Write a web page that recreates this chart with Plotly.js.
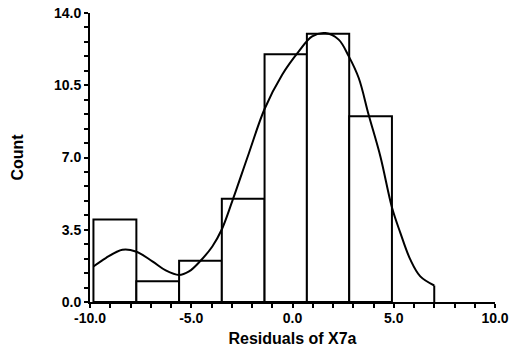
<!DOCTYPE html>
<html>
<head>
<meta charset="utf-8">
<script src="https://cdn.plot.ly/plotly-3.0.1.min.js"></script>
<style>html,body{margin:0;padding:0;background:#fff;}#chart{width:513px;height:357px;}</style>
</head>
<body>
<div id="chart"></div>
<script>
// Histogram bins (edges) and counts
const binEdges = [-9.83, -7.71, -5.60, -3.49, -1.38, 0.71, 2.80, 4.91];
const counts = [4, 1, 2, 5, 12, 13, 9];

// Smoothed density curve
const curveX = [-9.83, -9.22, -8.40, -7.74, -6.92, -6.26, -5.61, -5.11, -4.54, -3.96, -3.50, -2.97, -2.15, -1.38, -0.51, 0.31, 0.97, 1.63, 2.28, 2.78, 3.27, 3.76, 4.34, 4.92, 5.33, 5.82, 6.31, 7.00];
const curveY = [1.72, 2.13, 2.53, 2.45, 1.97, 1.53, 1.31, 1.48, 2.00, 2.69, 3.50, 4.90, 7.22, 9.35, 11.01, 12.14, 12.87, 13.03, 12.71, 11.90, 10.85, 9.07, 7.05, 4.55, 3.34, 2.05, 1.24, 0.80];

// Tick labels
const xTickVals = [-10, -5, 0, 5, 10];
const xTickText = ["-10.0", "-5.0", "0.0", "5.0", "10.0"];
const yTickVals = [0, 3.5, 7, 10.5, 14];
const yTickText = ["0.0", "3.5", "7.0", "10.5", "14.0"];

const xTitle = "Residuals of X7a";
const yTitle = "Count";

const centers = [], widths = [];
for (let i = 0; i < counts.length; i++) {
  centers.push((binEdges[i] + binEdges[i + 1]) / 2);
  widths.push(binEdges[i + 1] - binEdges[i]);
}
const lastX = curveX[curveX.length - 1];
const lastY = curveY[curveY.length - 1];

const font = "Liberation Sans, Arial, sans-serif";

const data = [
  {type: 'bar', x: centers, y: counts, width: widths,
   marker: {color: '#ffffff', line: {color: '#000000', width: 2}},
   hoverinfo: 'skip'},
  {type: 'scatter', mode: 'lines', x: curveX, y: curveY,
   line: {color: '#000000', width: 2, shape: 'spline', smoothing: 1}},
  {type: 'scatter', mode: 'lines', x: [lastX, lastX], y: [lastY, 0],
   line: {color: '#000000', width: 2}}
];

const layout = {
  width: 513, height: 357,
  margin: {l: 90, r: 18, t: 13, b: 55},
  paper_bgcolor: '#ffffff', plot_bgcolor: '#ffffff',
  showlegend: false,
  bargap: 0,
  font: {family: font, color: '#000000'},
  xaxis: {
    range: [-10, 10], showgrid: false, zeroline: false,
    showline: true, linecolor: '#000', linewidth: 2,
    ticks: 'outside', ticklen: 4, tickwidth: 2, tickcolor: '#000',
    tickmode: 'array', tickvals: xTickVals, ticktext: xTickText,
    tickfont: {family: font, size: 14, weight: 'bold'},
    ticklabelstandoff: -2,
    minor: {tickmode: 'linear', tick0: 0, dtick: 1, ticks: 'outside', ticklen: 4, tickwidth: 2, tickcolor: '#000', showgrid: false},
    title: {text: xTitle, font: {family: font, size: 16, weight: 'bold'}, standoff: 8},
    automargin: false
  },
  yaxis: {
    range: [0, 14], showgrid: false, zeroline: false,
    showline: true, linecolor: '#000', linewidth: 2,
    ticks: 'outside', ticklen: 4, tickwidth: 2, tickcolor: '#000',
    tickmode: 'array', tickvals: yTickVals, ticktext: yTickText,
    tickfont: {family: font, size: 14, weight: 'bold'},
    minor: {tickmode: 'linear', tick0: 0, dtick: 0.7, ticks: 'outside', ticklen: 4, tickwidth: 2, tickcolor: '#000', showgrid: false},
    title: {text: yTitle, font: {family: font, size: 16, weight: 'bold'}, standoff: 26},
    automargin: false
  }
};

Plotly.newPlot('chart', data, layout, {displayModeBar: false, staticPlot: true});
</script>
</body>
</html>
